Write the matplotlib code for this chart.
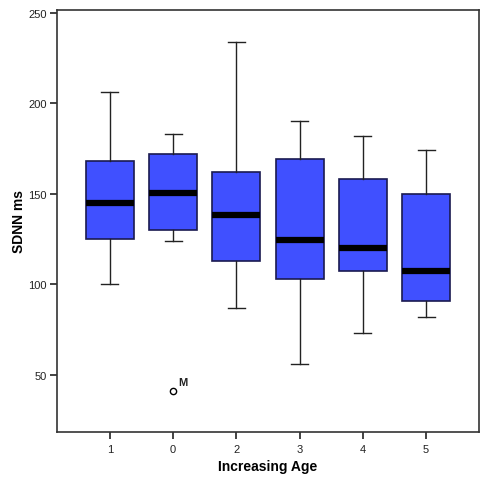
import matplotlib
matplotlib.use("Agg")
import matplotlib.pyplot as plt

plt.rcParams['font.family'] = ['Liberation Sans', 'DejaVu Sans']

# grupos na ordem mostrada no eixo
grupos = ["1", "0", "2", "3", "4", "5"]
minimo = [100, 124, 87, 56, 73, 82]
q1 = [125, 130, 113, 103, 107.5, 91]
mediana = [145, 150.5, 138, 124.5, 120, 107.5]
q3 = [168, 172, 162, 169, 158, 150]
maximo = [206, 183, 234, 190, 182, 174]
outliers = [[], [41], [], [], [], []]
rotulo_outlier = "M"

stats = []
for i, g in enumerate(grupos):
    stats.append(dict(label=g, whislo=minimo[i], q1=q1[i], med=mediana[i],
                      q3=q3[i], whishi=maximo[i], fliers=outliers[i]))

fig = plt.figure(figsize=(4.89, 4.89), dpi=100)
ax = fig.add_axes([0.116, 0.115, 0.864, 0.8625])

pos = list(range(len(grupos)))
ax.bxp(stats, positions=pos, widths=0.76, patch_artist=True,
       boxprops=dict(facecolor='#4050ff', edgecolor='#1a1a50', linewidth=1.2),
       medianprops=dict(color='black', linewidth=4.5, solid_capstyle='butt'),
       whiskerprops=dict(color='#222222', linewidth=1.0),
       capprops=dict(color='#222222', linewidth=1.0),
       capwidths=0.27,
       flierprops=dict(marker='o', markersize=4.5, markerfacecolor='none',
                       markeredgecolor='black', markeredgewidth=1.0))

for i, fl in enumerate(outliers):
    for v in fl:
        ax.annotate(rotulo_outlier, (pos[i], v), xytext=(4, 4),
                    textcoords='offset points', fontsize=8, fontweight='bold',
                    color='#222222')

ax.set_xlim(-0.84, 5.84)
ax.set_ylim(18.5, 251.5)
ax.set_yticks([50, 100, 150, 200, 250])
ax.set_xticks(pos)
ax.set_xticklabels(grupos)
ax.tick_params(axis='both', labelsize=8, length=5, width=1.2, color='#222222',
               labelcolor='#222222')
ax.tick_params(axis='y', pad=2)
for s in ax.spines.values():
    s.set_linewidth(1.2)
    s.set_color('#333333')

ax.set_xlabel("Increasing Age", fontsize=10, fontweight='bold', labelpad=4)
ax.set_ylabel("SDNN ms", fontsize=10, fontweight='bold', labelpad=2)

fig.savefig("out.png", dpi=100)
